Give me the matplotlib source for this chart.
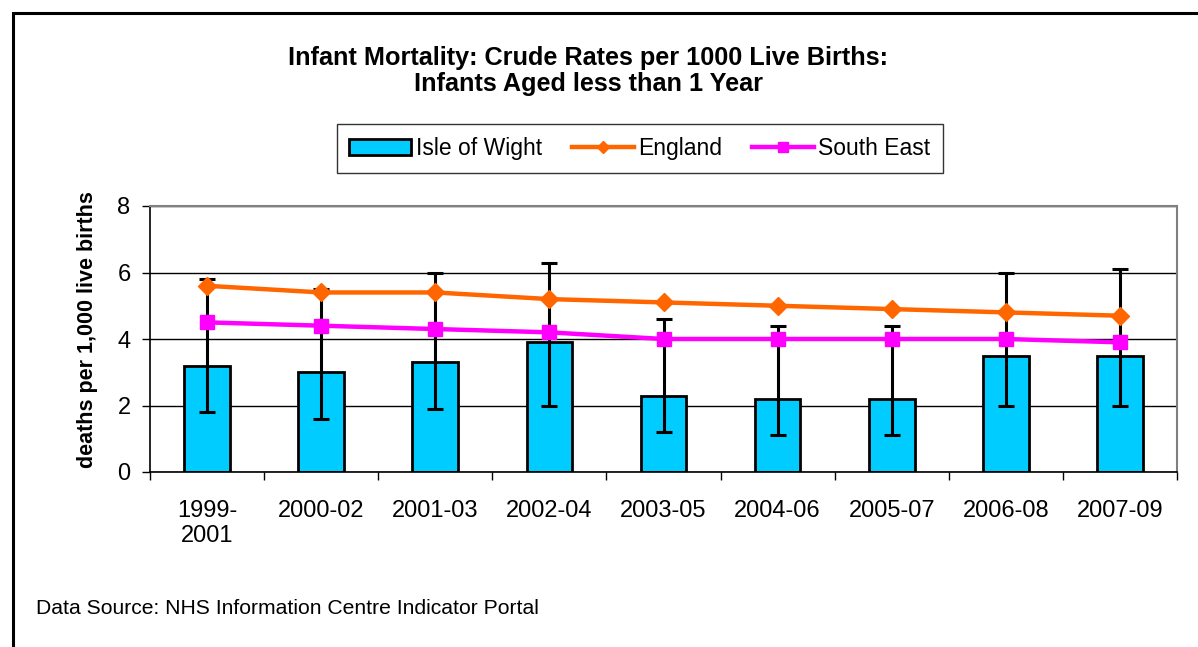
import matplotlib
matplotlib.use("Agg")
import matplotlib.pyplot as plt
from matplotlib.patches import Rectangle
import numpy as np

plt.rcParams['font.family'] = ['Liberation Sans', 'DejaVu Sans']

categories = ["1999-\n2001", "2000-02", "2001-03", "2002-04", "2003-05",
              "2004-06", "2005-07", "2006-08", "2007-09"]
iow = [3.2, 3.0, 3.3, 3.9, 2.3, 2.2, 2.2, 3.5, 3.5]
iow_lower = [1.8, 1.6, 1.9, 2.0, 1.2, 1.1, 1.1, 2.0, 2.0]
iow_upper = [5.8, 5.5, 6.0, 6.3, 4.6, 4.4, 4.4, 6.0, 6.1]
england = [5.6, 5.4, 5.4, 5.2, 5.1, 5.0, 4.9, 4.8, 4.7]
south_east = [4.5, 4.4, 4.3, 4.2, 4.0, 4.0, 4.0, 4.0, 3.9]

W, H = 1198, 647
fig = plt.figure(figsize=(W / 100, H / 100), dpi=100)
ax = fig.add_axes([150 / W, 1 - 472 / H, (1177 - 150) / W, (472 - 206) / H])

x = np.arange(len(categories))
yerr = [np.array(iow) - np.array(iow_lower), np.array(iow_upper) - np.array(iow)]

ax.set_axisbelow(True)
ax.yaxis.grid(True, color='black', linewidth=1.0)
b = ax.bar(x, iow, width=0.40, color='#00CCFF', edgecolor='black', linewidth=2,
           label='Isle of Wight', zorder=2)
l1, = ax.plot(x, england, color='#FF6600', linewidth=3.2, marker='D', markersize=9,
              label='England', zorder=4)
l2, = ax.plot(x, south_east, color='#FF00FF', linewidth=3.2, marker='s', markersize=10,
              label='South East', zorder=4)
ax.errorbar(x, iow, yerr=yerr, fmt='none', ecolor='black', elinewidth=2.2,
            capsize=6, capthick=2.2, zorder=3)

ax.set_xlim(-0.5, len(categories) - 0.5)
ax.set_ylim(0, 8)
ax.set_yticks([0, 2, 4, 6, 8])
ax.set_xticks(x)
ax.set_xticklabels(categories, linespacing=1.2)
ax.set_xticks(np.arange(-0.5, len(categories), 1.0), minor=True)
ax.tick_params(axis='x', which='major', length=0, pad=20, labelsize=17)
ax.tick_params(axis='x', which='minor', length=6, width=1, color='black')
ax.tick_params(axis='y', length=6, width=1, labelsize=17, pad=8)

for s in ['top', 'right']:
    ax.spines[s].set_color('#808080')
    ax.spines[s].set_linewidth(1.5)
for s in ['left', 'bottom']:
    ax.spines[s].set_color('black')
    ax.spines[s].set_linewidth(1.2)

fig.text(88 / W, 1 - 330 / H, 'deaths per 1,000 live births', rotation=90,
         ha='center', va='center', fontsize=15.5, fontweight='bold')

fig.text(588 / W, 1 - 71 / H,
         'Infant Mortality: Crude Rates per 1000 Live Births:\nInfants Aged less than 1 Year',
         ha='center', va='center', fontsize=18.2, fontweight='bold', linespacing=1.12)

leg = fig.legend(handles=[b, l1, l2], loc='center',
                 bbox_to_anchor=(640 / W, 1 - 148.5 / H), ncol=3,
                 fontsize=16.5, frameon=True, fancybox=False, edgecolor='black',
                 handlelength=2.7, columnspacing=1.3, handletextpad=0.2,
                 borderpad=0.55, markerscale=0.7)
leg.get_frame().set_linewidth(1.0)

fig.text(36 / W, 1 - 609 / H, 'Data Source: NHS Information Centre Indicator Portal',
         ha='left', va='center', fontsize=15.2)

fig.patches.append(Rectangle((13 / W, -0.1), 1.2, 1 - 13 / H + 0.1,
                             transform=fig.transFigure, fill=False,
                             edgecolor='black', linewidth=2.2))

fig.savefig('out.png', dpi=100)
